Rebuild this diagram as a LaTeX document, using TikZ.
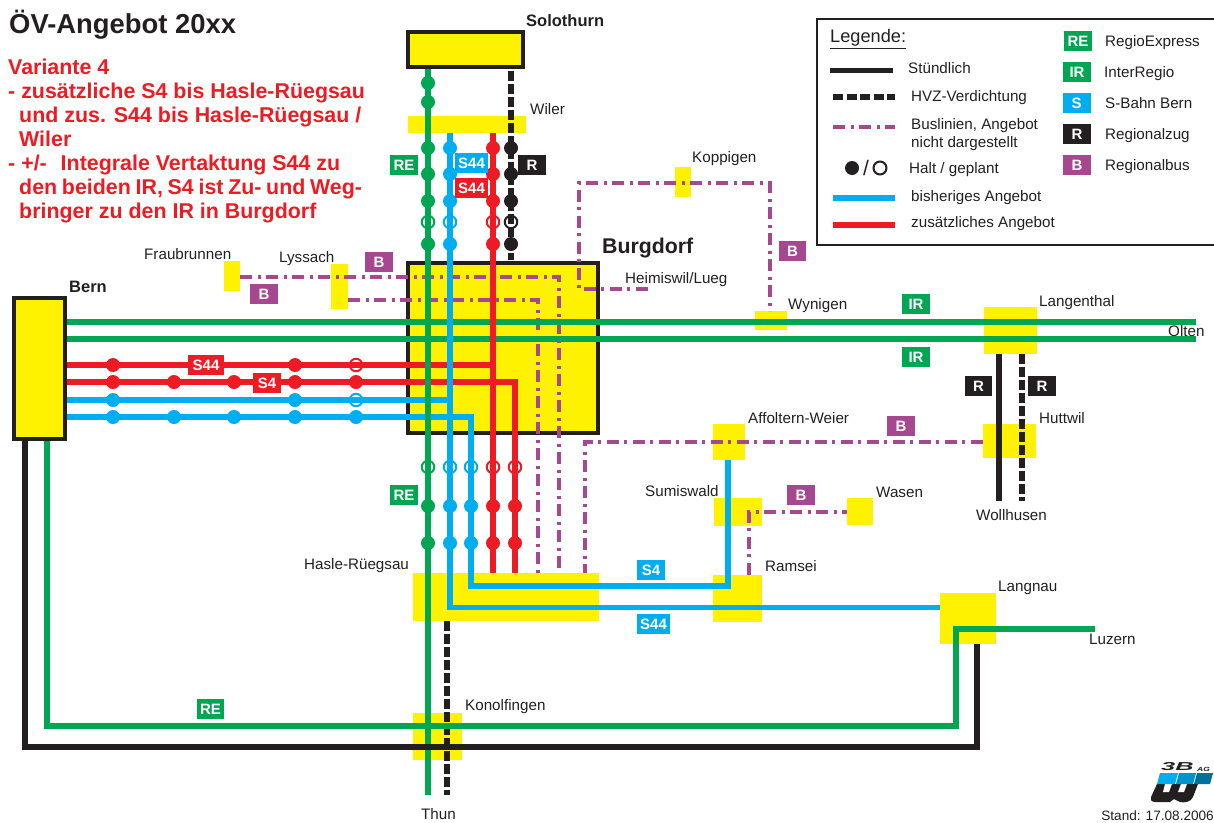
\documentclass[tikz,border=0pt]{standalone}
\usepackage{fontspec}
\setmainfont{Liberation Sans}
\usepackage{xcolor}
\usepackage{tikz}
\definecolor{gelb}{HTML}{FFF200}
\definecolor{gruen}{HTML}{00A651}
\definecolor{blau}{HTML}{00AEEF}
\definecolor{rot}{HTML}{ED1C24}
\definecolor{schwarz}{HTML}{231F20}
\definecolor{lila}{HTML}{A5488F}
\tikzset{
lbl/.style={text=schwarz,inner sep=0,font=\fontsize{15.2}{18}\selectfont},
lbln/.style={lbl,anchor=west,text height=11pt,text depth=0pt},
lblb/.style={lbl,font=\fontsize{16.5}{18}\selectfont\bfseries},
bhf/.style={shape=rectangle,fill=gelb,inner sep=0},
bhfk/.style={bhf,draw=schwarz,line width=4pt},
badge/.style={shape=rectangle,fill=#1,text=white,inner sep=0,minimum height=20pt,font=\fontsize{15}{18}\selectfont\bfseries},
linie/.style={line width=#1,line cap=butt,line join=miter},
re/.style={linie=5.2pt,gruen},
sb/.style={linie=5.4pt,blau},
neu/.style={linie=5.2pt,rot},
std/.style={linie=5.4pt,schwarz},
hvz/.style={linie=5.6pt,schwarz,dash pattern=on 10pt off 3pt},
bus/.style={linie=3.1pt,lila,dash pattern=on 12pt off 6pt on 3pt off 5pt},
halt/.style={shape=circle,fill=#1,inner sep=0,minimum size=14pt},
plan/.style={shape=circle,draw=#1,line width=2pt,inner sep=0,minimum size=12.5pt}}
\begin{document}
\begin{tikzpicture}[x=1pt,y=-1pt]
\useasboundingbox(0,0)rectangle(1214,822);
\node[bhfk,minimum width=115pt,minimum height=35pt](solothurn)at(465.5,49.5){};
\node[bhf,minimum width=118pt,minimum height=17pt](wiler)at(467,124.5){};
\node[bhfk,minimum width=190pt,minimum height=170pt](burgdorf)at(503,347.5){};
\node[bhfk,minimum width=51pt,minimum height=141pt](bern)at(39.5,368.5){};
\node[bhf,minimum width=186pt,minimum height=48pt](hasle)at(506,597){};
\node[bhf,minimum width=49pt,minimum height=47pt](ramsei)at(737.5,598.5){};
\node[bhf,minimum width=48pt,minimum height=28pt](sumiswald)at(738,512){};
\node[bhf,minimum width=32pt,minimum height=36pt](affoltern)at(729,442){};
\node[bhf,minimum width=26pt,minimum height=27pt](wasen)at(860,511.5){};
\node[bhf,minimum width=16pt,minimum height=30pt](fraubrunnen)at(232,276){};
\node[bhf,minimum width=17pt,minimum height=45pt](lyssach)at(339.5,286.5){};
\node[bhf,minimum width=16pt,minimum height=30pt](koppigen)at(683,182){};
\node[bhf,minimum width=32pt,minimum height=19pt](wynigen)at(771,320.5){};
\node[bhf,minimum width=53pt,minimum height=47pt](langenthal)at(1010.5,330.5){};
\node[bhf,minimum width=53pt,minimum height=34pt](huttwil)at(1009.5,441){};
\node[bhf,minimum width=56pt,minimum height=51pt](langnau)at(968,618.5){};
\node[bhf,minimum width=49pt,minimum height=47pt](konolfingen)at(437.5,736.5){};
\coordinate(olten1)at(1196,322);
\coordinate(olten2)at(1196,339);
\coordinate(thun)at(428,795);
\coordinate(thunh)at(447,795);
\coordinate(wollh)at(999,501);
\coordinate(wollhh)at(1022,501);
\coordinate(luzern)at(1095,629);
\coordinate(heim)at(648,289);
\coordinate(bgreen)at(47,726);
\coordinate(bblack)at(25,747);
\coordinate(lgreen)at(956,726);
\coordinate(lblack)at(977,747);
\draw[bus](lyssach.east|-0,300)-|(538,573);
\draw[bus](fraubrunnen.east|-0,277)-|(559,573);
\draw[bus](heim)-|(579,183)-|(770,311);
\draw[bus](huttwil.west|-0,442)-|(585,573);
\draw[bus](ramsei.north-|749,0)|-(wasen.west|-0,512);
\draw[re](bern.east|-0,322)--(olten1);
\draw[re](bern.east|-0,339)--(olten2);
\draw[neu](bern.east|-0,365)-|(493,365);
\draw[neu](bern.east|-0,382)-|(515,573);
\draw[sb](bern.east|-0,400)-|(450,400);
\draw[sb](bern.east|-0,417)-|(471,586)-|(728,460);
\draw[sb](450,133)|-(langnau.west|-0,607.5);
\draw[re](solothurn.south-|428,0)--(thun);
\draw[neu](493,133)--(493,573);
\draw[hvz](511,71)--(511,260);
\draw[hvz](447,621)--(thunh);
\draw[std](999,354)--(wollh);
\draw[hvz](1022,354)--(wollhh);
\draw[re](bern.south-|47,0)--(bgreen)--(lgreen)|-(luzern);
\draw[std](bern.south-|25,0)--(bblack)--(lblack)--(langnau.south-|977,0);
\foreach \y in {83,102,148,174,201,244}\node[halt=gruen](g\y)at(428,\y){};
\foreach \y in {148,174,201,244}{\node[halt=blau](bl\y)at(450,\y){};
\node[halt=rot](r\y)at(493,\y){};
\node[halt=schwarz](s\y)at(511,\y){};}
\node[plan=gruen](pg1)at(428,222){};
\node[plan=blau](pb1)at(450,222){};
\node[plan=rot](pr1)at(493,222){};
\node[plan=schwarz](ps1)at(511,222){};
\foreach \x in {113,295}{\node[halt=rot](ra\x)at(\x,365){};
\node[halt=blau](ba\x)at(\x,400){};}
\foreach \x in {113,174,234,295,356}{\node[halt=rot](rb\x)at(\x,382){};
\node[halt=blau](bb\x)at(\x,417){};}
\node[plan=rot](pr2)at(356,365){};
\node[plan=blau](pb2)at(356,400){};
\foreach \x/\f in {428/gruen,450/blau,471/blau,493/rot,515/rot}{\node[plan=\f](pu\x)at(\x,467){};
\node[halt=\f](hu\x)at(\x,506){};
\node[halt=\f](hv\x)at(\x,543){};}
\node[badge=gruen,minimum width=28pt](bre1)at(404,165){RE};
\node[badge=gruen,minimum width=28pt](bre2)at(404,495){RE};
\node[badge=gruen,minimum width=27pt](bre3)at(210.5,709){RE};
\node[badge=blau,minimum width=33pt](bs1)at(471.5,163){S44};
\node[badge=rot,minimum width=33pt](bs2)at(471.5,188){S44};
\node[badge=schwarz,minimum width=28pt](br1)at(532,165){R};
\node[badge=rot,minimum width=36pt](bs3)at(206,365){S44};
\node[badge=rot,minimum width=28pt](bs4)at(267,383){S4};
\node[badge=blau,minimum width=28pt](bs5)at(651,570){S4};
\node[badge=blau,minimum width=33pt](bs6)at(653.5,624){S44};
\node[badge=gruen,minimum width=28pt](bir1)at(916,304){IR};
\node[badge=gruen,minimum width=28pt](bir2)at(916,357){IR};
\node[badge=schwarz,minimum width=27pt](br2)at(978.5,386){R};
\node[badge=schwarz,minimum width=28pt](br3)at(1042,386){R};
\node[badge=lila,minimum width=28pt](bb1)at(379,262){B};
\node[badge=lila,minimum width=28pt](bb2)at(264,294){B};
\node[badge=lila,minimum width=27pt](bb3)at(792.5,251){B};
\node[badge=lila,minimum width=28pt](bb4)at(901,426){B};
\node[badge=lila,minimum width=28pt](bb5)at(801,495){B};
\node[lbl,anchor=west,font=\fontsize{27.4}{30}\selectfont\bfseries](titel)at(9,25){ÖV-Angebot 20xx};
\foreach \y/\x/\t in {67/8/{Variante 4},91/8/{- zusätzliche S4 bis Hasle-Rüegsau},115/19/{und zus. S44 bis Hasle-Rüegsau /},139/19/{Wiler},163/8/{- +/-\hspace*{.65em}Integrale Vertaktung S44 zu},187/19/{\spaceskip=.22em den beiden IR, S4 ist Zu- und Weg-},211/19/{bringer zu den IR in Burgdorf}}
\node[anchor=west,inner sep=0,text=rot,text height=15.4pt,text depth=0pt,font=\fontsize{21.4}{24}\selectfont\bfseries](v\y)at(\x,\y){\t};
\node[lblb,anchor=west](lsolothurn)at(526,21){Solothurn};
\node[lblb,anchor=west](lbern)at(69,287){Bern};
\node[lbl,anchor=west,font=\fontsize{21.3}{24}\selectfont\bfseries](lburgdorf)at(602,248){Burgdorf};
\foreach \n/\x/\y/\t in {a/530/109/Wiler,b/692/157/Koppigen,c/144/254/Fraubrunnen,d/279/257/Lyssach,e/625/278/{Heimiswil/Lueg},f/788/304/Wynigen,g/1039/301/Langenthal,h/1168/331/Olten,i/748/418/Affoltern-Weier,j/1039/418/Huttwil,k/645/491/Sumiswald,l/876/492/Wasen,m/976/515/Wollhusen,n/304/564/Hasle-Rüegsau,o/765/566/Ramsei,p/998/586/Langnau,q/1089/639/Luzern,r/465/705/Konolfingen,s/421/814/Thun}
\node[lbln](l\n)at(\x,\y){\t};
\draw[schwarz,line width=1.3pt](817,19)rectangle(1220,245);
\node[lbl,anchor=west,font=\fontsize{18.2}{20}\selectfont](leg)at(830,39){\underline{Legende:}};
\draw[linie=5pt,schwarz](830,70)--(893,70);
\draw[hvz,dash pattern=on 10pt off 3.5pt](833,97)--(895,97);
\draw[bus](833,127)--(895,127);
\node[halt=schwarz,minimum size=14pt](lh)at(852,168){};
\node[lbl,font=\fontsize{21}{24}\selectfont](ls)at(866,168){/};
\node[plan=schwarz,minimum size=13pt](lp)at(880,168){};
\draw[sb](833,198)--(895,198);
\draw[neu](833,225)--(895,225);
\foreach \n/\x/\y/\t in {a/908/68/Stündlich,b/911/96/HVZ-Verdichtung,c/911/124/{Buslinien, Angebot},d/911/142/nicht dargestellt,e/909/168/{Halt / geplant},f/911/196/bisheriges Angebot,g/911/222/zusätzliches Angebot,h/1105/41/RegioExpress,i/1104/72/InterRegio,j/1105/103/S-Bahn Bern,k/1105/134/Regionalzug,l/1105/165/Regionalbus}
\node[lbln](t\n)at(\x,\y){\t};
\foreach \n/\y/\x/\f/\t in {a/41/1078/gruen/RE,b/72/1077/gruen/IR,c/103/1076.5/blau/S,d/134/1077/schwarz/R,e/165/1077/lila/B}
\node[badge=\f,minimum width=28pt](k\n)at(\x,\y){\t};
\fill[schwarz](1157,784)--(1198,784)--(1193,797)..controls(1191,802)and(1184,803)..(1180,802)--(1174,799)--(1170,802)--(1155,802)..controls(1151,802)and(1150,799)..(1151,797)--cycle;
\fill[white](1165,784)--(1172,784)--(1169,792)--(1163,792)--cycle(1181,784)--(1187,784)--(1184,792)--(1178,792)--cycle;
\fill[blau](1160,773)--(1178,773)--(1175,784)--(1157,784)--cycle;
\fill[blau!85!black](1179,773)--(1196,773)--(1193,784)--(1176,784)--cycle;
\fill[blau!65!black](1197,773)--(1213,773)--(1210,784)--(1194,784)--cycle;
\node[lbl,anchor=west,font=\fontsize{11.5}{12}\selectfont\bfseries\itshape](log1)at(1161,767){\scalebox{2.2}[1]{3B}};
\node[lbl,anchor=west,font=\fontsize{6}{7}\selectfont\bfseries\itshape](log2)at(1197,769){\scalebox{1.4}[1]{AG}};
\node[lbl,anchor=east,font=\fontsize{13.6}{16}\selectfont](stand)at(1214,816){Stand: 17.08.2006};
\end{tikzpicture}
\end{document}
